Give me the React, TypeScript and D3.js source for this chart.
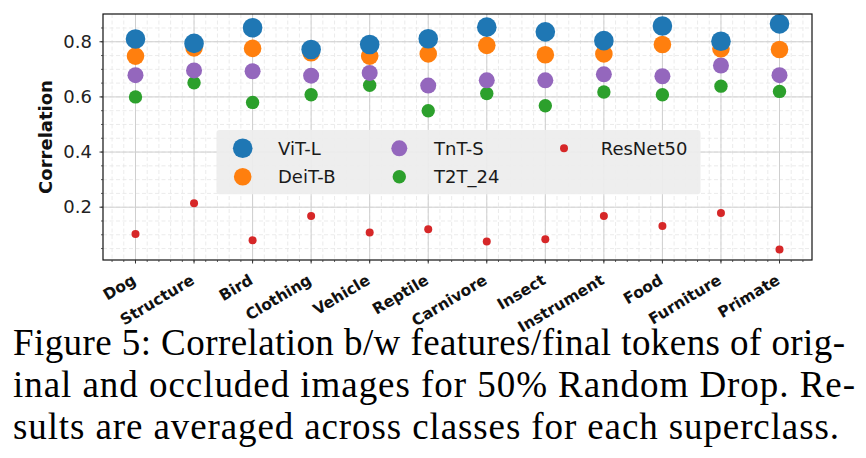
import React from "react";
import * as d3 from "d3";

const categories = ["Dog","Structure","Bird","Clothing","Vehicle","Reptile","Carnivore","Insect","Instrument","Food","Furniture","Primate"];
const vitL = [0.81,0.794,0.851,0.772,0.79,0.811,0.853,0.836,0.804,0.857,0.802,0.865];
const deitB = [0.748,0.778,0.776,0.76,0.748,0.756,0.787,0.753,0.756,0.79,0.775,0.772];
const tntS = [0.679,0.696,0.693,0.677,0.687,0.641,0.66,0.66,0.682,0.675,0.714,0.679];
const t2t24 = [0.60,0.651,0.58,0.608,0.642,0.55,0.612,0.568,0.618,0.608,0.639,0.62];
const resnet50 = [0.103,0.2145,0.08,0.168,0.108,0.12,0.076,0.084,0.168,0.132,0.179,0.047];
const yTicks = [0.2,0.4,0.6,0.8];
const captionLines = [
  "Figure 5: Correlation b/w features/final tokens of orig-",
  "inal and occluded images for 50% Random Drop. Re-",
  "sults are averaged across classes for each superclass.",
];

const series = [
  { name: "ViT-L", values: vitL, color: "#1f77b4", r: 9.8 },
  { name: "DeiT-B", values: deitB, color: "#ff7f0e", r: 8.8 },
  { name: "TnT-S", values: tntS, color: "#9467bd", r: 8 },
  { name: "T2T_24", values: t2t24, color: "#2ca02c", r: 6.7 },
  { name: "ResNet50", values: resnet50, color: "#d62728", r: 4 },
];

export default function App() {
  const left = 103, right = 812, top = 14, bottom = 260;
  const x = d3.scaleLinear().domain([-0.555, 11.555]).range([left, right]);
  const y = d3.scaleLinear().domain([0.0085, 0.9007]).range([bottom, top]);
  const minorX = d3.range(-0.4, 11.5, 0.2).map((v) => Math.round(v * 10) / 10);
  const minorY = d3.range(0.05, 0.9, 0.05).map((v) => Math.round(v * 100) / 100);
  const drawOrder = [...series].reverse();
  const legendPos = [
    { x: 242.7, y: 148.3, tx: 278 },
    { x: 242.7, y: 176.7, tx: 278 },
    { x: 399.3, y: 148.3, tx: 434 },
    { x: 399.3, y: 176.7, tx: 434 },
    { x: 564, y: 148.3, tx: 600.7 },
  ];
  const sans = "DejaVu Sans, sans-serif";
  const ang = 31;
  return (
    <svg width={866} height={458} style={{ position: "absolute", left: 0, top: 0, background: "#fff" }}>
      <rect x={0} y={0} width={866} height={458} fill="#fff" />
      {/* minor grid */}
      {minorX.map((v, i) => (
        <line key={"mx" + i} x1={x(v)} x2={x(v)} y1={top} y2={bottom} stroke="#e6e6e6" strokeWidth={0.8} strokeDasharray="4,2.5" />
      ))}
      {minorY.map((v, i) => (
        <line key={"my" + i} x1={left} x2={right} y1={y(v)} y2={y(v)} stroke="#e6e6e6" strokeWidth={0.8} strokeDasharray="4,2.5" />
      ))}
      {/* major grid */}
      {categories.map((c, i) => (
        <line key={"gx" + c} x1={x(i)} x2={x(i)} y1={top} y2={bottom} stroke="#cfcfcf" strokeWidth={1} />
      ))}
      {yTicks.map((v) => (
        <line key={"gy" + v} x1={left} x2={right} y1={y(v)} y2={y(v)} stroke="#cfcfcf" strokeWidth={1} />
      ))}
      {/* legend */}
      <rect x={216.5} y={130} width={484} height={64.3} rx={3} fill="#ededed" fillOpacity={0.92} />
      {series.map((s, i) => (
        <g key={"lg" + s.name}>
          <circle cx={legendPos[i].x} cy={legendPos[i].y} r={s.r} fill={s.color} />
          <text x={legendPos[i].tx} y={legendPos[i].y} dy="0.35em" fontFamily={sans} fontSize={18} fill="#1a1a1a">{s.name}</text>
        </g>
      ))}
      {/* points */}
      {drawOrder.map((s) => (
        <g key={"s" + s.name}>
          {s.values.map((v, i) => (
            <circle key={i} cx={x(i)} cy={y(v)} r={s.r} fill={s.color} />
          ))}
        </g>
      ))}
      {/* spines */}
      <rect x={left} y={top} width={right - left} height={bottom - top} fill="none" stroke="#111" strokeWidth={1.2} />
      {/* x ticks */}
      {minorX.map((v, i) => (
        <line key={"mxt" + i} x1={x(v)} x2={x(v)} y1={bottom} y2={bottom + 2} stroke="#333" strokeWidth={0.8} />
      ))}
      {categories.map((c, i) => (
        <g key={"xt" + c}>
          <line x1={x(i)} x2={x(i)} y1={bottom} y2={bottom + 3.5} stroke="#333" strokeWidth={1} />
          <g transform={`translate(${x(i) + 1.5}, 283) rotate(${-ang})`}>
            <text
              x={0}
              y={0}
              textAnchor="end"
              fontFamily={sans}
              fontWeight="bold"
              fontSize={15.5}
              fill="#111"
            >
              {c}
            </text>
          </g>
        </g>
      ))}
      {/* y ticks */}
      {minorY.map((v, i) => (
        <line key={"myt" + i} x1={left - 2} x2={left} y1={y(v)} y2={y(v)} stroke="#333" strokeWidth={0.8} />
      ))}
      {yTicks.map((v) => (
        <g key={"yt" + v}>
          <line x1={left - 3.5} x2={left} y1={y(v)} y2={y(v)} stroke="#333" strokeWidth={1} />
          <text x={92} y={y(v)} dy="0.35em" textAnchor="end" fontFamily={sans} fontSize={18} fill="#222">
            {d3.format(".1f")(v)}
          </text>
        </g>
      ))}
      <text
        x={52}
        y={137}
        transform="rotate(-90, 52, 137)"
        textAnchor="middle"
        fontFamily={sans}
        fontWeight="bold"
        fontSize={18}
        fill="#111"
      >
        Correlation
      </text>
      {/* caption */}
      {captionLines.map((t, i) => (
        <text
          key={"cap" + i}
          x={13}
          y={354.5 + i * 42}
          fontFamily="Liberation Serif, Times New Roman, serif"
          fontSize={37}
          fill="#000"
          textLength={[832, 842, 826][i]}
          lengthAdjust="spacing"
        >
          {t}
        </text>
      ))}
    </svg>
  );
}
